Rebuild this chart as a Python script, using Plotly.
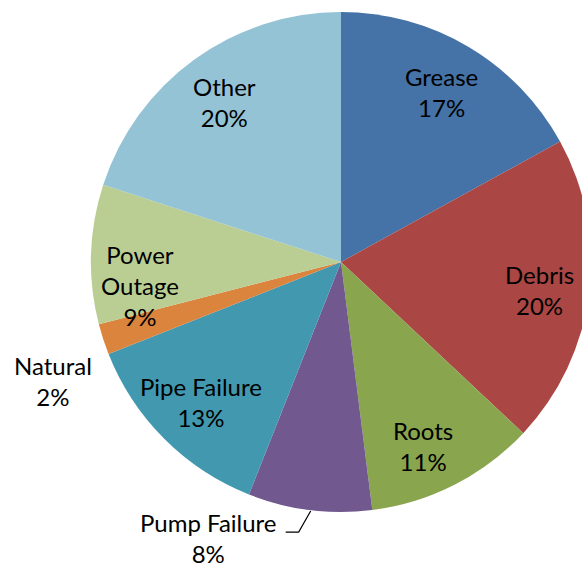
import math
import plotly.graph_objects as go

categories = ["Grease", "Debris", "Roots", "Pump Failure", "Pipe Failure", "Natural", "Power Outage", "Other"]
values = [17, 20, 11, 8, 13, 2, 9, 20]
colors = ["#4572A7", "#AA4643", "#89A54E", "#71588F", "#4198AF", "#DB843D", "#BACE94", "#93C3D4"]

# body margin removed below, so figure coordinates = window coordinates
W, H = 592, 567
R = 250
cx, cy = 341, 262

dom_x0, dom_x1 = cx - R, cx + R
dom_y0, dom_y1 = cy - R, cy + R  # from top

FONT = "Lato"
FS = 24

fig = go.Figure(go.Pie(
    labels=categories,
    values=values,
    sort=False,
    direction="clockwise",
    rotation=0,
    marker=dict(colors=colors, line=dict(width=0)),
    textinfo="none",
    hoverinfo="label+percent",
    showlegend=False,
    domain=dict(x=[dom_x0 / W, dom_x1 / W], y=[1 - dom_y1 / H, 1 - dom_y0 / H]),
))

def px2paper(x, y):
    return x / W, 1 - y / H

total = sum(values)
cum = 0
annotations = []
shapes = []
inside_r = 198
nudges = {"Power Outage": (-3, 30), "Roots": (-8, 8), "Debris": (2, 3)}
for name, v in zip(categories, values):
    mid = 360 * (cum + v / 2) / total
    cum += v
    a = math.radians(mid)
    s, c = math.sin(a), math.cos(a)
    pct = f"{round(100 * v / total)}%"
    label_text = name.replace(" ", "<br>") if name == "Power Outage" else name
    font = dict(family=FONT, size=FS, color="black")
    if name == "Natural":
        lx, ly = cx + 300 * s - 3, cy - 300 * c + 26
        x, y = px2paper(lx, ly)
        annotations.append(dict(x=x, y=y, xref="paper", yref="paper", text=f"{label_text}<br>{pct}",
                                showarrow=False, xanchor="center", yanchor="middle", font=font))
    elif name == "Pump Failure":
        ex, ey = cx + R * s, cy - R * c
        lx, ly = ex - 101, ey + 28
        x, y = px2paper(lx, ly)
        annotations.append(dict(x=x, y=y, xref="paper", yref="paper", text=f"{label_text}<br>{pct}",
                                showarrow=False, xanchor="center", yanchor="middle", font=font))
        p0 = px2paper(ex + 1, ey + 1)
        p1 = px2paper(ex - 11, ey + 22)
        p2 = px2paper(ex - 24, ey + 22)
        shapes.append(dict(type="path", xref="paper", yref="paper",
                           path=f"M {p0[0]},{p0[1]} L {p1[0]},{p1[1]} L {p2[0]},{p2[1]}",
                           line=dict(color="black", width=1.2)))
    else:
        dx, dy = nudges.get(name, (0, 0))
        lx, ly = cx + inside_r * s + dx, cy - inside_r * c + dy
        x, y = px2paper(lx, ly)
        annotations.append(dict(x=x, y=y, xref="paper", yref="paper", text=f"{label_text}<br>{pct}",
                                showarrow=False, xanchor="center", yanchor="middle", font=font))

fig.update_layout(
    width=W, height=H,
    margin=dict(l=0, r=0, t=0, b=0),
    paper_bgcolor="white",
    plot_bgcolor="white",
    annotations=annotations,
    shapes=shapes,
)

fig.write_html(
    "out.html",
    config={"displayModeBar": False},
    post_script="document.body.style.margin='0';document.body.style.overflow='hidden';",
)
